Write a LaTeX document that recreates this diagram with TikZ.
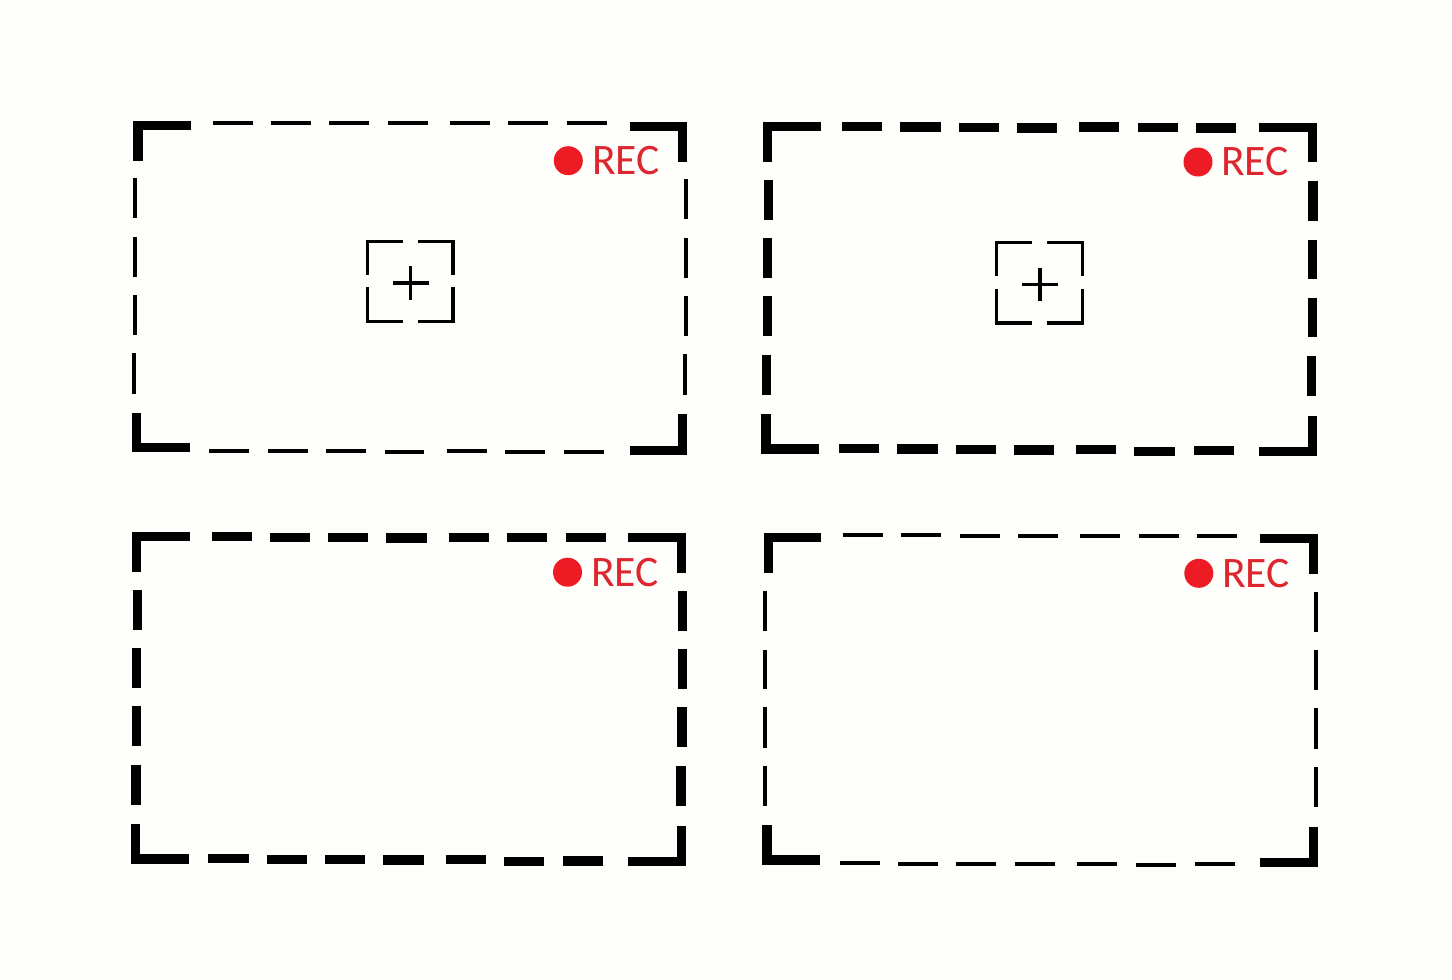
\documentclass[tikz,border=0pt]{standalone}
\usepackage{fontspec}
\setmainfont{Carlito}
\definecolor{paper}{RGB}{254,254,250}
\definecolor{recred}{RGB}{237,28,36}
\definecolor{rectext}{RGB}{222,38,46}
\tikzset{
  boldrule/.style={draw=black,line width=9.2pt,line cap=butt,miter limit=10},
  thinrule/.style={draw=black,line width=4pt,line cap=butt},
  hairrule/.style={draw=black,line width=3.2pt,line cap=butt},
  recdot/.style={circle,fill=recred,draw=none,minimum size=29pt,inner sep=0pt},
  reclabel/.style={text=rectext,anchor=base west,inner sep=0pt,font=\fontsize{43.5}{52}\selectfont}
}
\begin{document}
\begin{tikzpicture}[x=1pt,y=-1pt]
\useasboundingbox (0,0) rectangle (1452,980);
\fill[paper] (0,0) rectangle (1452,980);

% Frame 1: thin dashes
\draw[boldrule] (191.3,125.2)--(137.9,125.2)--(137.9,160.7);
\draw[boldrule] (629.7,126.2)--(682.6,126.2)--(682.6,161.7);
\draw[boldrule] (136.5,413.3)--(136.5,447.5)--(190,447.5);
\draw[boldrule] (629.7,450.4)--(682.5,450.4)--(682.5,414.3);
\foreach \a/\b/\y in {212.7/252.7/122.8,271/311.3/123,329.3/369.3/123.2,387.7/427.7/123.4,450/490/123.3,508.3/548.3/123.4,566.7/606.7/123.4,
  209.3/249.3/451.2,268/308/451.3,326.3/366.3/451.3,384.7/424.3/451.7,446.7/486.7/451.3,505/545/452.3,564.3/604.3/452}
  \draw[thinrule] (\a,\y)--(\b,\y);
\foreach \x/\a/\b in {135/178.3/218.3,134.7/237/277,134.7/295/335,134.3/353.3/393.7,
  686/179.3/219.3,686/237.7/277.7,685.7/296/336,685.3/354.3/394.7}
  \draw[thinrule] (\x,\a)--(\x,\b);

% Frame 2: bold dashes
\draw[boldrule] (820.7,126.7)--(767.3,126.7)--(767.3,162);
\draw[boldrule] (1258.7,127.4)--(1312.2,127.4)--(1312.2,162.3);
\draw[boldrule] (765.9,414.3)--(765.9,448.9)--(819.2,448.9);
\draw[boldrule] (1259.1,451.5)--(1312.2,451.5)--(1312.2,415.7);
\foreach \a/\b/\y in {842/882.3/126.3,900.3/940.7/127,958.7/998.7/127.3,1017/1057/128,1079.3/1119.3/127,1137.7/1177.7/127.7,1196/1236/128,
  839.2/879.1/448.4,897.2/937.6/449,955.7/995.7/449.4,1014.1/1054.1/450,1076.3/1116.3/449.2,1134.4/1174.7/451.7,1194/1233.9/450.7}
  \draw[boldrule] (\a,\y)--(\b,\y);
\foreach \x/\a/\b in {768.1/179.7/219.7,767.3/238/278,767.2/296.3/336,766.4/354.7/394.7,
  1313/180.7/220.7,1312.5/239.7/279.3,1312.2/297.7/337.3,1311.8/356/396}
  \draw[boldrule] (\x,\a)--(\x,\b);

% Frame 3: bold dashes
\draw[boldrule] (189.9,536.7)--(136.7,536.7)--(136.7,572);
\draw[boldrule] (628.3,537.2)--(681.6,537.2)--(681.6,572.7);
\draw[boldrule] (135.4,824.3)--(135.4,858.9)--(188.8,858.9);
\draw[boldrule] (628.3,861.7)--(681.6,861.7)--(681.6,825.7);
\foreach \a/\b/\y in {211.7/251.7/536.3,270.2/310.2/537.2,327.9/368.2/537.5,386.4/426.7/538,448.9/488.8/537.2,507.3/547.3/537.8,565.8/605.8/537.8,
  208.4/248.7/858.5,266.9/307.2/859.2,325/364.9/859.3,383.4/423.7/860,445.6/485.5/859.2,504/544/861.7,563.2/603.2/861}
  \draw[boldrule] (\a,\y)--(\b,\y);
\foreach \x/\a/\b in {137.2/589.7/629.7,136.6/648.3/688.3,136.3/706/746,135.9/764.7/804.7,
  682.8/591/630.7,682.2/649.3/689.3,681.9/707.3/747.3,681/766/806}
  \draw[boldrule] (\x,\a)--(\x,\b);

% Frame 4: thin dashes
\draw[boldrule] (821.4,537.7)--(768.3,537.7)--(768.3,573);
\draw[boldrule] (1260.2,538.7)--(1313.5,538.7)--(1313.5,573.7);
\draw[boldrule] (766.9,825.3)--(766.9,859.9)--(820.3,859.9);
\draw[boldrule] (1260.2,862.8)--(1313.4,862.8)--(1313.4,826.7);
\foreach \a/\b/\y in {842.9/882.8/535.3,901.3/941.3/535.3,959.8/999.7/535.5,1018.2/1058.2/535.7,1080.4/1120.3/535.5,1138.8/1179.2/535.7,1197.3/1237.2/535.7,
  839.9/879.9/863.3,898.4/938.3/863.7,956.4/996.4/863.8,1014.9/1055.2/864,1077.4/1117.4/863.8,1135.5/1175.5/864.7,1194.7/1234.6/864.3}
  \draw[thinrule] (\a,\y)--(\b,\y);
\foreach \x/\a/\b in {765.2/590.7/630.7,765.2/649.7/689.3,764.8/707.3/747.7,764.8/766/806,
  1316.4/592/632,1316.4/650.3/690.3,1316.4/708.3/748.7,1316/767/807}
  \draw[thinrule] (\x,\a)--(\x,\b);

% Focus reticles
\foreach \dx/\dy in {0/0,629.3/1.3}{
\begin{scope}[shift={(\dx,\dy)}]
  \draw[hairrule] (402.7,241.4)--(367.4,241.4)--(367.4,275);
  \draw[hairrule] (417.7,241.4)--(453,241.4)--(453,275);
  \draw[hairrule] (367.4,287.3)--(367.4,321.6)--(402.7,321.6);
  \draw[hairrule] (417.7,321.6)--(453,321.6)--(453,287.3);
  \draw[hairrule] (392.7,283)--(428.7,283);
  \draw[hairrule] (410.7,266.3)--(410.7,300);
\end{scope}}

% REC indicators
\node[recdot] (dotA) at (568.3,160.7) {};
\node[reclabel] (recA) at (591.8,174.3) {REC};
\node[recdot] (dotB) at (1198,162) {};
\node[reclabel] (recB) at (1221,175.6) {REC};
\node[recdot] (dotC) at (567.5,572.2) {};
\node[reclabel] (recC) at (590.8,586) {REC};
\node[recdot] (dotD) at (1198.8,573.3) {};
\node[reclabel] (recD) at (1222,587) {REC};
\end{tikzpicture}
\end{document}
